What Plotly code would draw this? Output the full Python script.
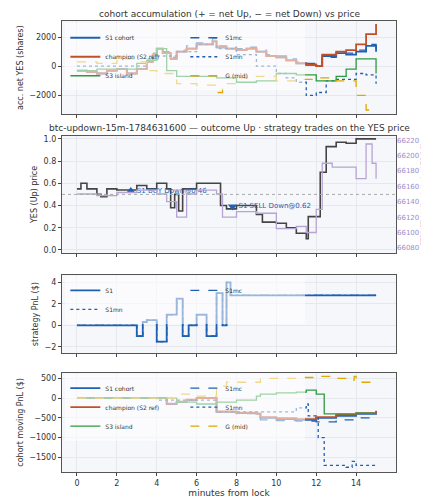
import plotly.graph_objects as go
from plotly.subplots import make_subplots

# panel 1: accumulated net YES shares
s1_t = [0, 0.5, 1, 1.5, 2, 2.5, 3, 3.5, 3.8, 4, 4.3, 4.7, 5, 5.5, 6, 6.8, 7, 7.5, 8, 8.5, 9, 9.5, 10, 10.5, 11, 11.5, 12, 12.3, 13, 13.5, 14, 14.5, 15]
s1_v = [-300, -400, -500, -300, -200, -500, -200, 300, 800, 1200, 900, 500, 1000, 1200, 1500, 1700, 1300, 1200, 1100, 1200, 1000, 700, 600, 400, 200, 100, 0, 700, 900, 800, 1000, 1400, 1000]
ch_v = [-300, -400, -500, -300, -200, -500, -200, 300, 800, 1200, 900, 500, 1000, 1200, 1500, 1700, 1300, 1200, 1100, 1200, 1000, 700, 600, 400, 200, 100, 0, 800, 1000, 1100, 1500, 2200, 2900]
mc_v = [-300, -400, -500, -300, -200, -500, -200, 400, 900, 1300, 1000, 600, 1100, 1400, 1600, 1900, 1400, 1300, 1200, 1300, 1100, 800, 700, 500, 300, 200, 0, 600, 900, 900, 1100, 1500, 1000]
mn_t = [0, 3, 3.5, 4, 5, 6, 7, 8, 9, 10, 10.5, 11, 11.5, 12, 12.5, 13, 14, 14.5, 15]
mn_v = [0, 0, 500, 700, 1000, 1500, 1200, 800, 0, -500, -800, -1100, -2000, -1800, -1000, -900, -500, -600, -1200]
s3_t = [0, 1, 2, 3, 3.5, 4, 4.5, 5, 6, 7, 8, 9, 10, 11, 12, 13, 13.5, 14, 14.5, 15]
s3_v = [-300, -200, -200, 200, 400, 1200, -300, -700, -700, -800, -1100, -1000, -500, -600, -1000, -700, -200, 500, 500, -500]
g_t = [0, 1, 2, 3, 3.5, 4, 5, 6, 7, 7.3, 8, 9, 10, 11, 12, 13, 14, 14.5, 15]
g_v = [300, 200, 500, 300, -300, -500, -1200, -1300, -1800, -1200, -800, -700, -1000, -900, -800, -1000, -2000, -3000, -2900]

# panel 2: YES price and BTC
yes_t = [0, 0.2, 0.5, 1, 1.2, 1.5, 2, 3, 3.5, 4, 4.5, 4.7, 4.9, 5.1, 5.3, 6, 7, 7.2, 7.5, 8, 9, 9.3, 10, 10.5, 11, 11.5, 11.6, 12, 12.2, 12.5, 13, 13.5, 14, 15]
yes_v = [0.55, 0.6, 0.55, 0.5, 0.48, 0.55, 0.54, 0.58, 0.55, 0.6, 0.55, 0.38, 0.5, 0.35, 0.55, 0.6, 0.6, 0.4, 0.37, 0.4, 0.32, 0.25, 0.24, 0.2, 0.15, 0.1, 0.3, 0.3, 0.7, 0.93, 0.97, 0.96, 1.0, 1.0]
btc_t = [0, 1, 2, 3, 4, 4.5, 5, 5.5, 6, 7, 7.3, 8, 9, 10, 11, 11.5, 12, 12.3, 12.8, 13.5, 14, 14.5, 14.8, 15]
btc_v = [66150, 66148, 66152, 66155, 66150, 66140, 66120, 66150, 66155, 66150, 66120, 66127, 66125, 66105, 66108, 66100, 66130, 66190, 66185, 66185, 66170, 66215, 66190, 66170]
trade_t = [2.7, 7.8]
trade_p = [0.53, 0.39]
trade_lbl = ["S1 BUY Down@0.46", "S1 SELL Down@0.62"]

# panel 3: strategy PnL
pnl_t = [0, 2.7, 3, 3.3, 3.5, 4, 4.5, 5, 5.3, 5.6, 6, 6.5, 7, 7.3, 7.5, 7.7, 15]
pnl_v = [0, 0, -1, 0.3, 0.5, -1.5, 1, 2.5, -1, 0, 1, -1, 3, 0, 4, 2.8, 2.8]

# panel 4: cohort moving PnL
p_t = [0, 4, 4.5, 5, 5.5, 6, 7, 8, 9, 9.2, 10, 11, 12, 13, 14, 15]
p_s1 = [0, 0, -150, -100, -50, 0, -350, -380, -400, -500, -530, -550, -500, -450, -400, -350]
p_ch = [0, 0, -140, -90, -40, 0, -340, -370, -390, -480, -510, -530, -480, -420, -380, -320]
p_mc = [0, 0, -160, -110, -60, 0, -360, -390, -420, -550, -570, -580, -600, -550, -500, -490]
p_s3_t = [0, 5, 6, 7, 8, 9, 9.2, 10, 11, 11.5, 12, 12.4, 14, 15]
p_s3 = [0, -100, -150, -100, -50, 50, 100, 130, 150, 200, 100, -400, -380, -380]
p_mn_t = [0, 4, 7, 9, 11, 11.5, 11.6, 12, 12.1, 12.4, 13.5, 13.8, 14, 15]
p_mn = [0, -50, -350, -350, -250, -150, -450, -500, -1000, -1700, -1750, -1600, -1700, -1700]
p_g_t = [0, 4, 5, 6, 7, 7.5, 9, 9.2, 11, 12, 13, 13.8, 13.9, 14, 15]
p_g = [0, 0, 100, 50, 300, 400, 400, 500, 520, 550, 500, 450, 550, 400, 400]

BLUE, RED, GREEN, GOLD = "#2060b0", "#c0502a", "#2e9a3e", "#e0a800"

fig = make_subplots(rows=4, cols=1, specs=[[{}], [{"secondary_y": True}], [{}], [{}]])

def add(x, y, name, color, dash="solid", width=1.3, row=1, leg="legend", sec=False, show=True):
    fig.add_trace(go.Scatter(x=x, y=y, name=name, mode="lines", line=dict(color=color, dash=dash, width=width, shape="hv"),
                             legend=leg, showlegend=show), row=row, col=1, secondary_y=sec)

add(s1_t, s1_v, "S1 cohort", BLUE, width=1.8)
add(s1_t, mc_v, "S1mc", BLUE, "dash")
add(s1_t, ch_v, "champion (S2 ref)", RED, width=1.8)
add(mn_t, mn_v, "S1mn", BLUE, "dot")
add(s3_t, s3_v, "S3 island", GREEN)
add(g_t, g_v, "G (mid)", GOLD, "dash")

add(btc_t, btc_v, "BTC", "#b8a4d4", row=2, sec=True, show=False)
add(yes_t, yes_v, "YES", "#444444", width=1.6, row=2, show=False)
fig.add_trace(go.Scatter(x=trade_t, y=trade_p, mode="markers+text", text=trade_lbl, textposition="middle right",
                         textfont=dict(size=7, color=BLUE), marker=dict(symbol=["triangle-up", "triangle-down"], size=8, color=BLUE),
                         showlegend=False), row=2, col=1)
fig.add_hline(y=0.5, line=dict(color="#aaaaaa", dash="dot", width=1), row=2, col=1)

add(pnl_t, pnl_v, "S1", BLUE, width=1.8, row=3, leg="legend2")
add(pnl_t, pnl_v, "S1mc", BLUE, "dash", row=3, leg="legend2")
add(pnl_t, pnl_v, "S1mn", BLUE, "dot", row=3, leg="legend2")

add(p_t, p_s1, "S1 cohort", BLUE, width=1.8, row=4, leg="legend3")
add(p_t, p_mc, "S1mc", BLUE, "dash", row=4, leg="legend3")
add(p_t, p_ch, "champion (S2 ref)", RED, width=1.8, row=4, leg="legend3")
add(p_mn_t, p_mn, "S1mn", BLUE, "dot", row=4, leg="legend3")
add(p_s3_t, p_s3, "S3 island", GREEN, row=4, leg="legend3")
add(p_g_t, p_g, "G (mid)", GOLD, "dash", row=4, leg="legend3")

doms = [(0.793, 1.0), (0.485, 0.746), (0.263, 0.437), (0.0, 0.22)]
ax = dict(showline=True, mirror=True, linecolor="#555555", linewidth=1.2, gridcolor="#e6e8ee",
          tickfont=dict(size=8, color="#333"), zeroline=False, ticks="outside", ticklen=3)
for i, d in enumerate(doms):
    k = "" if i == 0 else str(i + 1)
    fig.layout["xaxis" + k].update(range=[-0.75, 16.0], domain=[0, 1], tickvals=[0, 2, 4, 6, 8, 10, 12, 14],
                                   showticklabels=(i == 3), matches="x", **ax)
    fig.layout["yaxis" + ("" if i == 0 else str(i + 1 if i < 2 else i + 2))].update(domain=d, **ax)

fig.update_yaxes(title_text="acc. net YES (shares)", range=[-3300, 3100], tickvals=[-2000, 0, 2000], row=1, col=1)
fig.update_yaxes(title_text="YES (Up) price", range=[-0.03, 1.03], dtick=0.2, tickformat=".1f", row=2, col=1, secondary_y=False)
fig.update_yaxes(title_text="strategy PnL ($)", range=[-2.6, 4.7], tickvals=[-2, 0, 2, 4], row=3, col=1)
fig.update_yaxes(title_text="cohort moving PnL ($)", range=[-1870, 640], dtick=500, row=4, col=1)
fig.update_xaxes(title_text="minutes from lock", title_font=dict(size=9), title_standoff=2, row=4, col=1)
fig.update_yaxes(title_font=dict(size=8, color="#333"), title_standoff=4)
fig.update_yaxes(title_text="BTC/USD (strike dotted = YES 0.5)", range=[66073, 66226], dtick=20, showgrid=False,
                 tickformat="d", title_standoff=2, title_font=dict(size=6, color="#a08cc8"),
                 tickfont=dict(size=7, color="#a08cc8"), row=2, col=1, secondary_y=True)

legbase = dict(font=dict(size=6), bgcolor="rgba(255,255,255,0.55)", orientation="h", entrywidth=75, tracegroupgap=0,
               itemwidth=30, xanchor="left", yanchor="top", x=0.01)
fig.update_layout(
    width=429, height=500, margin=dict(l=42, r=40, t=13, b=27),
    plot_bgcolor="#f5f7fb", paper_bgcolor="white", font=dict(family="DejaVu Sans", size=8, color="#333"),
    legend=dict(y=0.995, **legbase), legend2=dict(y=0.435, **legbase), legend3=dict(y=0.218, **legbase),
    annotations=list(fig.layout.annotations) + [
        dict(text="cohort accumulation (+ = net Up, − = net Down) vs price", x=0.5, y=1.0, xref="paper", yref="paper",
             yanchor="bottom", showarrow=False, font=dict(size=9)),
        dict(text="btc-updown-15m-1784631600 — outcome Up · strategy trades on the YES price", x=0.5, y=0.748, xref="paper",
             yref="paper", yanchor="bottom", showarrow=False, font=dict(size=9)),
    ],
)
fig.write_html("out.html")
